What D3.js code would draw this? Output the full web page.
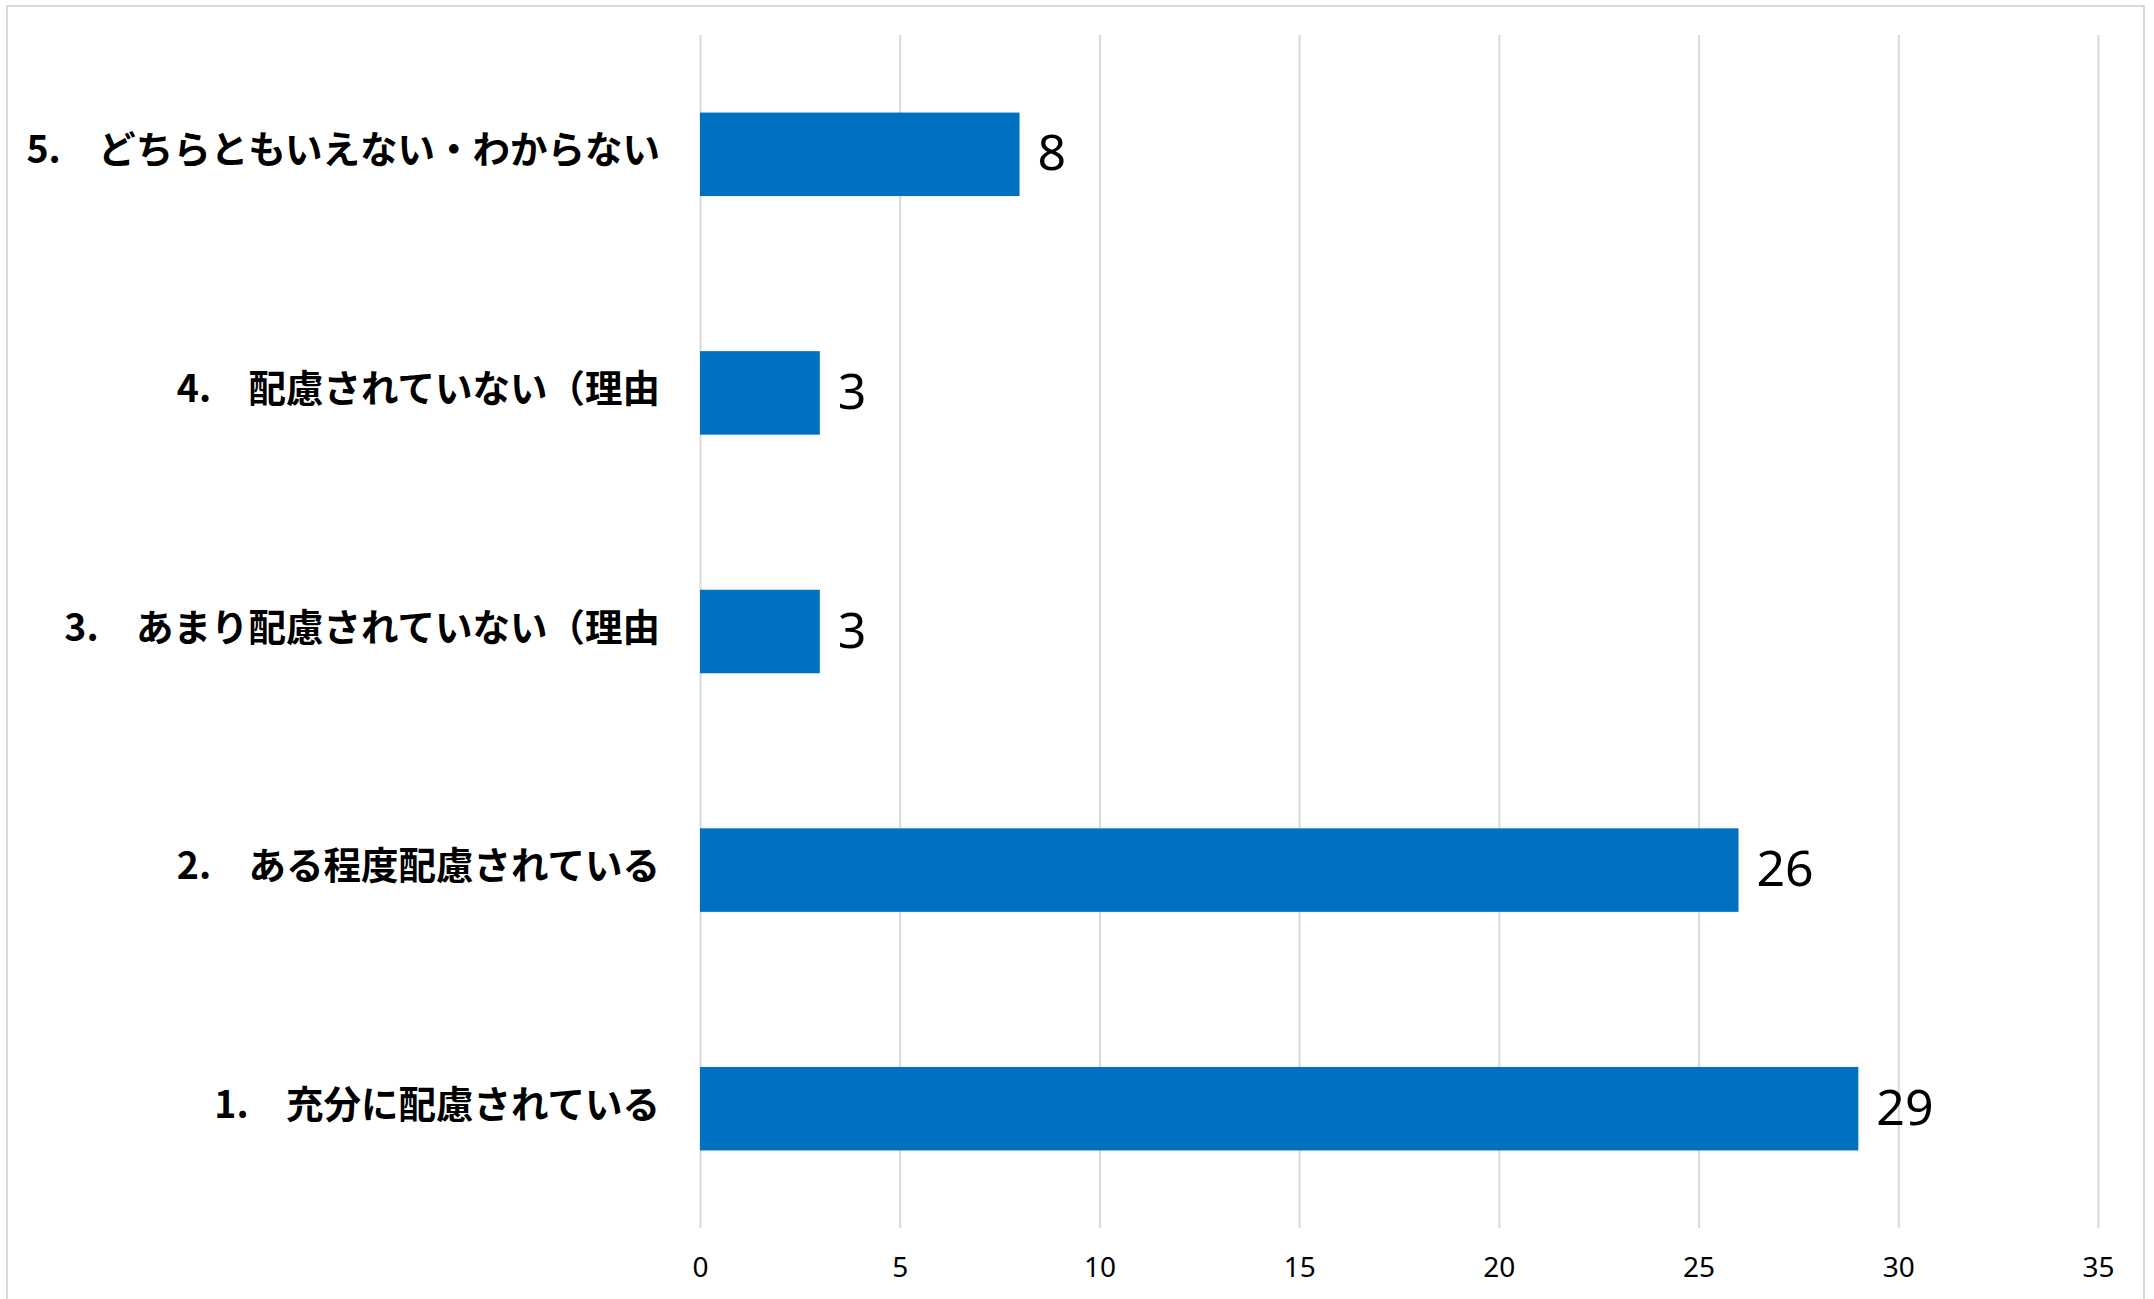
<!DOCTYPE html>
<html>
<head>
<meta charset="utf-8">
<script src="https://cdn.jsdelivr.net/npm/d3@7"></script>
<style>
  html, body { margin: 0; padding: 0; background: #ffffff; }
  svg { display: block; }
</style>
</head>
<body>
<script>
// ---- data (top to bottom as displayed) ----
const categories = [
  "5.\u3000どちらともいえない・わからない",
  "4.\u3000配慮されていない（理由",
  "3.\u3000あまり配慮されていない（理由",
  "2.\u3000ある程度配慮されている",
  "1.\u3000充分に配慮されている"
];
const values = [8, 3, 3, 26, 29];
const tickValues = [0, 5, 10, 15, 20, 25, 30, 35];

const W = 2154, H = 1299;
const plot = { left: 700, right: 2098, top: 35, bottom: 1228 };

const svg = d3.select("body").append("svg")
  .attr("width", W).attr("height", H);

svg.append("rect").attr("x", 0).attr("y", 0).attr("width", W).attr("height", H).attr("fill", "#ffffff");

// outer chart border (bottom edge lies outside the picture)
svg.append("rect")
  .attr("x", 7).attr("y", 6)
  .attr("width", 2144 - 7).attr("height", H + 20)
  .attr("fill", "none").attr("stroke", "#d9d9d9").attr("stroke-width", 2);

const x = d3.scaleLinear().domain([0, 35]).range([plot.left, plot.right]);
const y = d3.scaleBand().domain(categories).range([plot.top, plot.bottom])
  .paddingInner(0.65).paddingOuter(0.325);

// gridlines
const grid = svg.append("g")
  .attr("transform", `translate(0,${plot.bottom})`)
  .call(d3.axisBottom(x).tickValues(tickValues).tickSize(-(plot.bottom - plot.top)).tickFormat(""));
grid.select(".domain").remove();
grid.selectAll(".tick line").attr("stroke", "#d9d9d9").attr("stroke-width", 2);

// x tick labels
const xa = svg.append("g")
  .attr("transform", `translate(0,${plot.bottom})`)
  .call(d3.axisBottom(x).tickValues(tickValues).tickSize(0).tickFormat(d3.format("d")));
xa.select(".domain").remove();
xa.selectAll(".tick text")
  .attr("y", 49).attr("dy", null)
  .attr("fill", "#000")
  .style("font-family", "'Noto Sans', 'Open Sans', sans-serif")
  .style("font-size", "28px");

// bars
svg.append("g").selectAll("rect")
  .data(values)
  .join("rect")
  .attr("x", x(0))
  .attr("y", (d, i) => y(categories[i]))
  .attr("width", d => x(d) - x(0))
  .attr("height", y.bandwidth())
  .attr("fill", "#0070C0");

// value labels
svg.append("g").selectAll("text")
  .data(values)
  .join("text")
  .attr("x", d => x(d) + 18)
  .attr("y", (d, i) => y(categories[i]) + y.bandwidth() / 2 + 16)
  .attr("fill", "#000")
  .style("font-family", "'Noto Sans', 'Open Sans', sans-serif")
  .style("font-size", "50px")
  .text(d => d);

// category labels
const ya = svg.append("g")
  .attr("transform", `translate(${plot.left},0)`)
  .call(d3.axisLeft(y).tickSize(0).tickPadding(40));
ya.select(".domain").remove();
ya.selectAll(".tick text")
  .attr("dy", null)
  .attr("y", 9)
  .attr("fill", "#000")
  .style("font-family", "'Noto Sans CJK JP', 'Noto Sans', sans-serif")
  .style("font-weight", "bold")
  .style("font-size", "37.5px");
</script>
</body>
</html>
